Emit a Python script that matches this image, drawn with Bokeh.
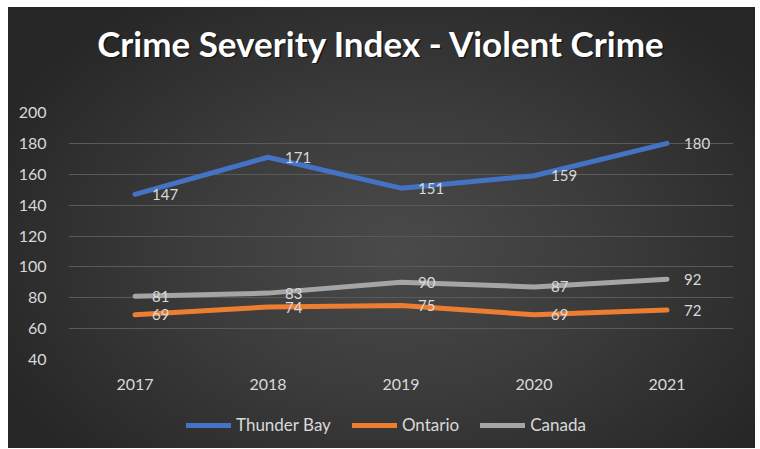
from bokeh.plotting import figure
from bokeh.layouts import column
from bokeh.models import FactorRange, FixedTicker, Legend, LegendItem, Label
from bokeh.core.properties import value
from bokeh.embed import file_html
from bokeh.resources import INLINE

# ---- data ----
years = ["2017", "2018", "2019", "2020", "2021"]
thunder_bay = [147, 171, 151, 159, 180]
ontario = [69, 74, 75, 69, 72]
canada = [81, 83, 90, 87, 92]
y_ticks = [40, 60, 80, 100, 120, 140, 160, 180, 200]
series_names = ["Thunder Bay", "Ontario", "Canada"]
title_text = "Crime Severity Index - Violent Crime"

FONT = "Lato"
TXT = "#d9d9d9"
colors = ["#4472C4", "#ED7D31", "#A5A5A5"]
series = [thunder_bay, ontario, canada]


def strip(fig):
    fig.background_fill_alpha = 0
    fig.border_fill_alpha = 0
    fig.outline_line_color = None
    fig.grid.visible = False


# ---- title strip ----
t = figure(width=747, height=94, output_backend="svg", toolbar_location=None,
           title=None, x_axis_location=None, y_axis_location=None,
           min_border_left=0, min_border_right=0, min_border_top=0, min_border_bottom=0)
strip(t)
t.add_layout(Label(x=314.5, y=57.5, x_units="screen", y_units="screen", text=title_text,
                   text_align="center", text_baseline="middle", text_color="black",
                   text_alpha=0.55, text_font=FONT, text_font_size="35px",
                   text_font_style="bold"))
t.add_layout(Label(x=313, y=59, x_units="screen", y_units="screen", text=title_text,
                   text_align="center", text_baseline="middle", text_color="white",
                   text_font=FONT, text_font_size="35px", text_font_style="bold"))

# ---- main chart ----
p = figure(
    x_range=FactorRange(*years), y_range=(40, 200), title=None,
    width=747, height=301, output_backend="svg", toolbar_location=None,
    min_border_left=60, min_border_right=22, min_border_top=11, min_border_bottom=43,
)
p.background_fill_alpha = 0
p.border_fill_alpha = 0
p.outline_line_color = None

p.xgrid.grid_line_color = None
p.ygrid.grid_line_color = "#5a5a5a"
p.ygrid.grid_line_width = 1
p.yaxis.ticker = FixedTicker(ticks=y_ticks)

for ax in (p.xaxis, p.yaxis):
    ax.axis_line_color = None
    ax.major_tick_line_color = None
    ax.minor_tick_line_color = None
    ax.major_label_text_color = TXT
    ax.major_label_text_font = FONT
    ax.major_label_text_font_size = "16px"
p.yaxis.major_label_standoff = 16
p.xaxis.major_label_standoff = 13

for vals, col in zip(series, colors):
    p.line(years, vals, line_color=col, line_width=5, line_cap="round", line_join="round")

for vals in series:
    p.text(years, vals, text=[str(v) for v in vals], x_offset=17,
           text_align="left", text_baseline="middle",
           text_color=TXT, text_font=value(FONT), text_font_size="15px")

# ---- legend strip ----
q = figure(width=747, height=46, output_backend="svg", toolbar_location=None,
           title=None, x_axis_location=None, y_axis_location=None,
           x_range=FactorRange(*years), y_range=(-2, -1),
           min_border_left=0, min_border_right=0, min_border_top=0, min_border_bottom=0)
strip(q)
items = []
for name, vals, col in zip(series_names, series, colors):
    r = q.line(years, vals, line_color=col, line_width=5, line_cap="round")
    items.append(LegendItem(label=name, renderers=[r]))
legend = Legend(items=items, orientation="horizontal", location=(118, 13),
                background_fill_alpha=0, border_line_color=None,
                label_text_color=TXT, label_text_font=FONT, label_text_font_size="17px",
                glyph_width=45, glyph_height=20, label_height=20,
                spacing=21, label_standoff=5, padding=0, margin=0)
q.add_layout(legend)

layout = column(t, p, q, spacing=0)
layout.margin = (7, 5, 1, 8)
layout.styles = {"background": "radial-gradient(ellipse 60% 70% at 52% 55%, #4a4a4a 0%, #3c3c3c 45%, #262626 100%)"}

open("out.html", "w").write(file_html(layout, INLINE))
